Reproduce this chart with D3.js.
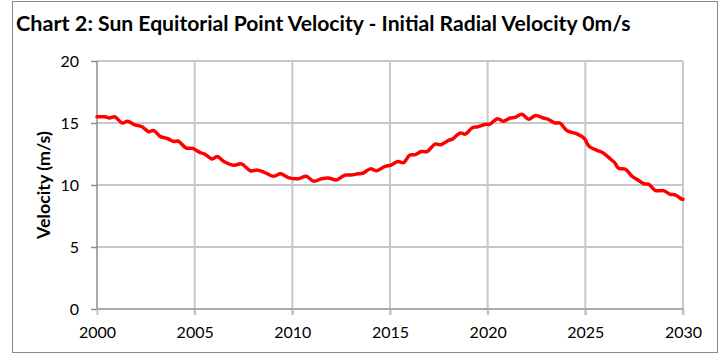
<!DOCTYPE html>
<html><head><meta charset="utf-8">
<script src="https://cdn.jsdelivr.net/npm/d3@7"></script>
<style>html,body{margin:0;padding:0;background:#fff;}svg{display:block;}</style>
</head><body>
<svg id="c" width="720" height="354"></svg>
<script>
const titleMain = "Chart 2:";
const titleSub = "Sun Equitorial Point Velocity - Initial Radial Velocity 0m/s";
const yTitle = "Velocity (m/s)";
const xTicks = [2000, 2005, 2010, 2015, 2020, 2025, 2030];
const yTicks = [0, 5, 10, 15, 20];
const years = [2000.0,2000.4,2000.65,2000.9,2001.3,2001.55,2001.95,2002.3,2002.65,2002.9,2003.25,2003.6,2003.95,2004.15,2004.55,2004.9,2005.3,2005.5,2005.9,2006.15,2006.5,2007.0,2007.4,2007.85,2008.2,2008.6,2009.05,2009.4,2009.8,2010.3,2010.7,2011.1,2011.5,2011.9,2012.25,2012.7,2013.0,2013.35,2013.6,2014.0,2014.3,2014.75,2015.05,2015.4,2015.7,2016.0,2016.3,2016.6,2016.9,2017.3,2017.6,2018.0,2018.2,2018.6,2018.85,2019.2,2019.5,2019.9,2020.1,2020.5,2020.8,2021.15,2021.4,2021.75,2022.1,2022.45,2022.85,2023.1,2023.45,2023.7,2024.05,2024.6,2024.95,2025.2,2025.6,2025.9,2026.25,2026.5,2026.7,2027.05,2027.4,2027.65,2028.0,2028.25,2028.6,2029.0,2029.35,2029.6,2029.95,2030.0];
const velocity = [15.5,15.5,15.4,15.5,15.0,15.15,14.85,14.7,14.3,14.4,13.9,13.75,13.5,13.55,13.0,12.95,12.6,12.5,12.1,12.3,11.9,11.6,11.7,11.15,11.2,11.0,10.7,10.9,10.6,10.5,10.7,10.3,10.5,10.55,10.4,10.8,10.8,10.9,10.95,11.3,11.15,11.5,11.6,11.9,11.8,12.4,12.45,12.7,12.7,13.3,13.25,13.6,13.7,14.2,14.1,14.6,14.7,14.9,14.9,15.35,15.15,15.4,15.45,15.7,15.3,15.6,15.4,15.3,15.0,15.0,14.4,14.1,13.75,13.1,12.8,12.6,12.15,11.8,11.35,11.27,10.7,10.45,10.1,10.05,9.55,9.55,9.25,9.2,8.85,8.85];

const svg = d3.select("#c");
const font = "Lato, 'Liberation Sans', sans-serif";

// outer frame
svg.append("rect").attr("x",12.5).attr("y",1.5).attr("width",705).attr("height",351)
  .attr("fill","#fff").attr("stroke","#8a8a8a").attr("stroke-width",1);

const x = d3.scaleLinear().domain([2000,2030]).range([97,683]);
const y = d3.scaleLinear().domain([0,20]).range([309,61]);

// horizontal gridlines
svg.append("g").selectAll("line").data(yTicks.filter(d=>d>0)).join("line")
  .attr("x1",x(2000)).attr("x2",x(2030)).attr("y1",d=>y(d)).attr("y2",d=>y(d))
  .attr("stroke","#b4b4b4").attr("stroke-width",1.5);
// vertical gridlines
svg.append("g").selectAll("line").data(xTicks.filter(d=>d>2000)).join("line")
  .attr("x1",d=>x(d)).attr("x2",d=>x(d)).attr("y1",y(20)).attr("y2",y(0)+6)
  .attr("stroke","#c8c8c8").attr("stroke-width",2);

// axes
const yAxis = svg.append("g").attr("transform",`translate(${x(2000)},0)`)
  .call(d3.axisLeft(y).tickValues(yTicks).tickSize(6).tickPadding(12).tickFormat(d3.format("d")));
const xAxis = svg.append("g").attr("transform",`translate(0,${y(0)})`)
  .call(d3.axisBottom(x).tickValues(xTicks).tickSize(6).tickPadding(12).tickFormat(d3.format("d")));
[yAxis,xAxis].forEach(g=>{
  g.select(".domain").attr("stroke","#8c8c8c").attr("stroke-width",1.5);
  g.selectAll(".tick line").attr("stroke","#8c8c8c").attr("stroke-width",1.5);
  g.selectAll("text").attr("font-family",font).attr("font-size",16).attr("fill","#000");
});
xAxis.selectAll(".tick line").attr("stroke","#c0c0c0").attr("stroke-width",2);
xAxis.select(".domain").attr("d",`M${x(2000)},0H${x(2030)}`);
yAxis.select(".domain").attr("d",`M0,${y(20)}V${y(0)}`);

// line
const line = d3.line().x((d,i)=>x(years[i])).y(d=>y(d)).curve(d3.curveCatmullRom.alpha(0.5));
svg.append("path").datum(velocity).attr("d",line)
  .attr("fill","none").attr("stroke","#ff0000").attr("stroke-width",3.5)
  .attr("stroke-linejoin","round").attr("stroke-linecap","round");

// titles
function fit(t, w){ const len=t.node().getComputedTextLength(); const fs=+t.attr("font-size"); t.attr("font-size", fs*w/len); }
const t1 = svg.append("text").attr("x",16).attr("y",31).attr("font-family",font).attr("font-weight","bold")
  .attr("font-size",21).attr("fill","#000").text(titleMain);
fit(t1, 77);
const t2 = svg.append("text").attr("x",98).attr("y",31).attr("font-family",font).attr("font-weight","bold")
  .attr("font-size",16).attr("fill","#000").text(titleSub);
fit(t2, 533);
const ty = svg.append("text").attr("transform",`translate(50,185) rotate(-90)`).attr("text-anchor","middle")
  .attr("font-family",font).attr("font-weight","bold").attr("font-size",15).attr("fill","#000").text(yTitle);
fit(ty, 108);
</script>
</body></html>
